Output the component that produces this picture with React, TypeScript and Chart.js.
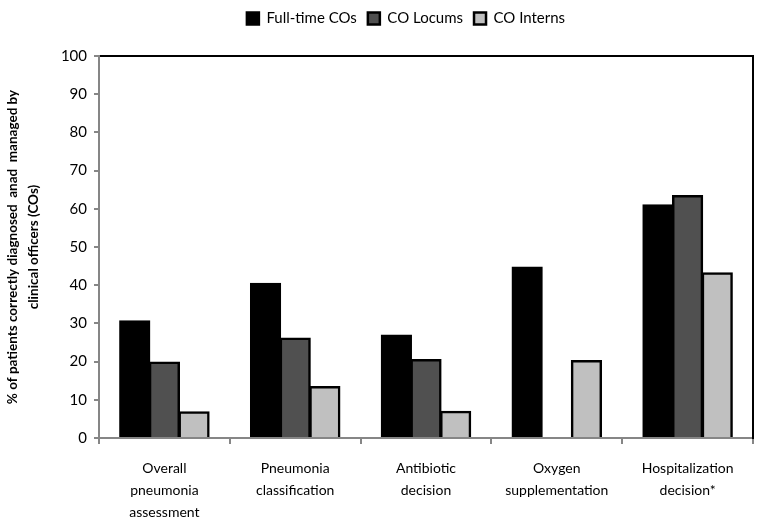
import React, { useEffect, useRef } from "react";
import { Chart, registerables } from "chart.js";

Chart.register(...registerables);

const categories: string[][] = [
  ["Overall", "pneumonia", "assessment"],
  ["Pneumonia", "classification"],
  ["Antibiotic", "decision"],
  ["Oxygen", "supplementation"],
  ["Hospitalization", "decision*"],
];

const fullTimeCOs: (number | null)[] = [30.6, 40.4, 26.9, 44.7, 61.0];
const coLocums: (number | null)[] = [19.8, 26.1, 20.5, null, 63.4];
const coInterns: (number | null)[] = [6.8, 13.4, 6.9, 20.2, 43.2];

const seriesLabels = ["Full-time COs", "CO Locums", "CO Interns"];
const yTitle = ["% of patients correctly diagnosed  anad  managed by", "clinical officers (COs)"];

const FONT = "Lato, 'Open Sans', sans-serif";
const AXIS_GREY = "#868686";
const LEFT_PAD = 50;

export default function App() {
  const ref = useRef<HTMLCanvasElement | null>(null);

  useEffect(() => {
    document.body.style.margin = "0";
    const canvas = ref.current;
    if (!canvas) return;
    const chart = new Chart(canvas, {
      type: "bar",
      data: {
        labels: categories,
        datasets: [
          {
            label: seriesLabels[0],
            data: fullTimeCOs,
            backgroundColor: "#000000",
            borderColor: "#000000",
            borderWidth: 2.5,
          },
          {
            label: seriesLabels[1],
            data: coLocums,
            backgroundColor: "#505050",
            borderColor: "#000000",
            borderWidth: 2.5,
          },
          {
            label: seriesLabels[2],
            data: coInterns,
            backgroundColor: "#c0c0c0",
            borderColor: "#000000",
            borderWidth: 2.5,
          },
        ],
      },
      options: {
        animation: false,
        responsive: false,
        maintainAspectRatio: false,
        layout: { padding: { left: LEFT_PAD, top: 0, right: 0, bottom: 0 } },
        datasets: {
          bar: { categoryPercentage: 0.68, barPercentage: 1, inflateAmount: 0.8 },
        },
        plugins: {
          tooltip: { enabled: false },
          legend: {
            display: true,
            position: "top",
            labels: {
              boxWidth: 12,
              boxHeight: 12,
              padding: 11,
              color: "#000",
              font: { family: FONT, size: 15 },
            },
          },
        },
        scales: {
          x: {
            type: "category",
            position: "bottom",
            offset: true,
            grid: {
              display: true,
              offset: true,
              drawOnChartArea: false,
              drawTicks: true,
              tickLength: 6,
              color: AXIS_GREY,
              lineWidth: 2,
            },
            border: { display: true, color: AXIS_GREY, width: 2 },
            ticks: {
              color: "#000",
              font: { family: FONT, size: 14, lineHeight: 1.55 },
              padding: 14,
              maxRotation: 0,
              minRotation: 0,
              autoSkip: false,
            },
            afterFit: (s: any) => {
              s.height = 83;
            },
          },
          x2: {
            type: "category",
            position: "top",
            grid: { display: false, drawTicks: false },
            border: { display: true, color: "#000", width: 2 },
            ticks: { display: false },
            afterFit: (s: any) => {
              s.height = 20;
            },
          },
          y: {
            type: "linear",
            position: "left",
            min: 0,
            max: 100,
            grid: {
              display: true,
              drawOnChartArea: false,
              drawTicks: true,
              tickLength: 5,
              color: AXIS_GREY,
              lineWidth: 2,
            },
            border: { display: true, color: AXIS_GREY, width: 2 },
            ticks: {
              stepSize: 10,
              color: "#000",
              padding: 7,
              font: { family: FONT, size: 15 },
            },
            title: {
              display: true,
              text: yTitle,
              color: "#000",
              font: { family: FONT, size: 13.5, weight: "bold", lineHeight: 1.5 },
              padding: { top: 3 - LEFT_PAD, bottom: 4 },
            },
            afterFit: (s: any) => {
              s.width = 99 - LEFT_PAD;
            },
          },
          y2: {
            type: "linear",
            position: "right",
            min: 0,
            max: 100,
            grid: { display: false, drawTicks: false },
            border: { display: true, color: "#000", width: 2 },
            ticks: { display: false },
            afterFit: (s: any) => {
              s.width = 9;
            },
          },
        },
      },
    });
    return () => chart.destroy();
  }, []);

  return (
    <div style={{ position: "absolute", left: 0, top: 0, width: 762, height: 521 }}>
      <canvas ref={ref} width={762} height={521} style={{ width: 762, height: 521, display: "block" }} />
    </div>
  );
}
